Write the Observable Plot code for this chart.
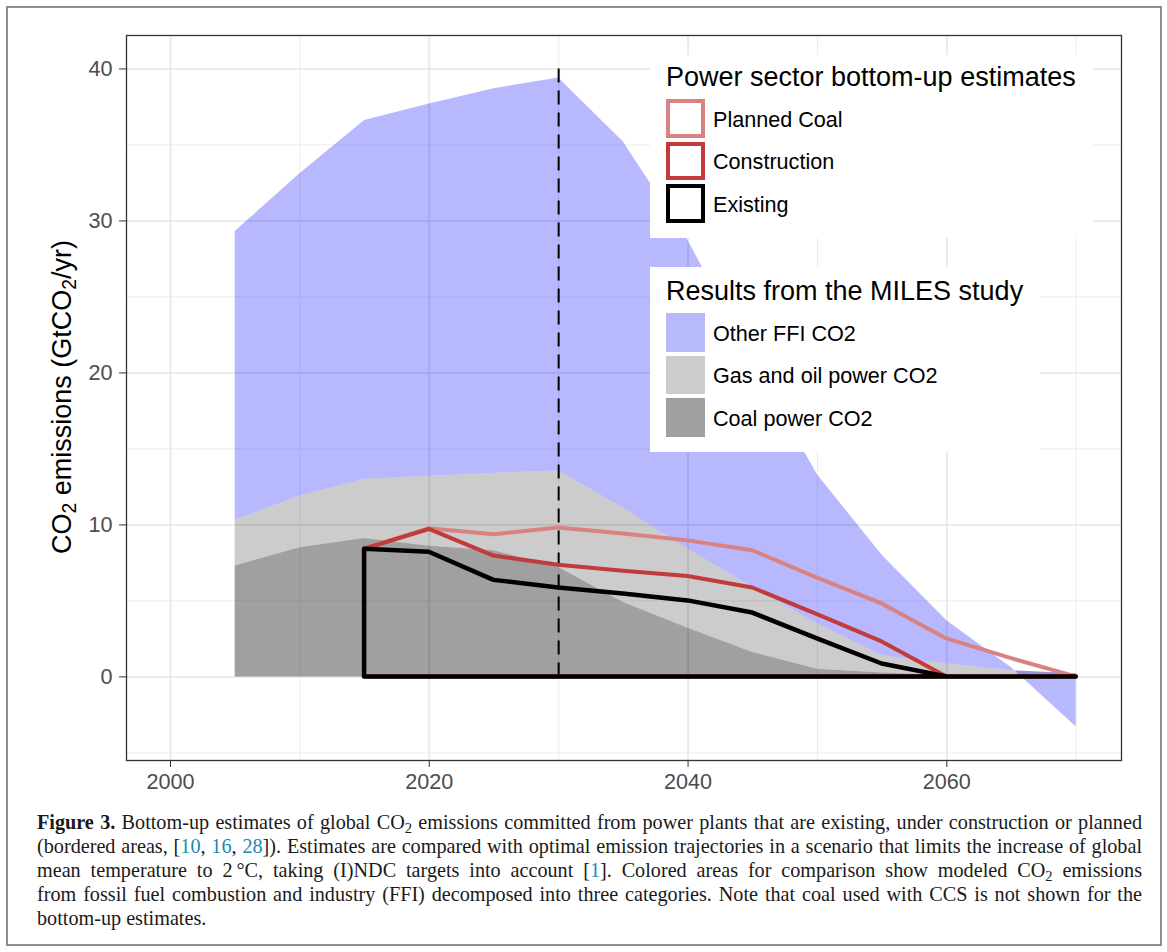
<!DOCTYPE html>
<html><head><meta charset="utf-8">
<script src="https://cdn.jsdelivr.net/npm/d3@7"></script>
<script src="https://cdn.jsdelivr.net/npm/@observablehq/plot@0.6"></script>
<style>
body{margin:0;background:#fff;width:1167px;height:952px;position:relative;overflow:hidden;font-family:"Liberation Sans",Arial,sans-serif;}
#frame{position:absolute;left:6px;top:6px;width:1152px;height:936px;border:2.5px solid #8f8f8f;pointer-events:none;}
#chart{position:absolute;left:0;top:0;}
.lbox{position:absolute;background:#fff;}
.ltitle{position:absolute;font-size:27px;line-height:27px;color:#000;white-space:nowrap;}
.ltext{position:absolute;font-size:21.6px;line-height:21.6px;color:#000;white-space:nowrap;}
.key{position:absolute;box-sizing:border-box;width:39px;height:38.5px;}
#ytitle{position:absolute;left:62px;top:397px;transform:translate(-50%,-50%) rotate(-90deg);font-size:27px;white-space:nowrap;color:#000;}
#ytitle sub, #caption sub{font-size:0.72em;vertical-align:-0.28em;line-height:0;}
#caption{position:absolute;left:37px;width:1105px;top:810px;font-family:"Liberation Serif","Times New Roman",serif;font-size:20.2px;color:#1a1a1a;}
#caption .ln{display:block;height:24px;line-height:24px;white-space:nowrap;text-align:justify;text-align-last:justify;}
#caption .ln.last{text-align-last:left;}
#caption a{color:#1a8ab5;text-decoration:none;}
</style>
</head><body>
<div id="chart"></div>
<div id="ytitle">CO<sub>2</sub> emissions (GtCO<sub>2</sub>/yr)</div>
<div class="lbox" style="left:650px;top:55px;width:443px;height:183px;"></div>
<div class="lbox" style="left:650px;top:267px;width:390px;height:185px;"></div>
<div id="legend"></div>
<div id="caption">
<span class="ln"><b>Figure 3.</b> Bottom-up estimates of global CO<sub>2</sub> emissions committed from power plants that are existing, under construction or planned</span>
<span class="ln">(bordered areas, [<a>10</a>, <a>16</a>, <a>28</a>]). Estimates are compared with optimal emission trajectories in a scenario that limits the increase of global</span>
<span class="ln">mean temperature to 2&#8201;°C, taking (I)NDC targets into account [<a>1</a>]. Colored areas for comparison show modeled CO<sub>2</sub> emissions</span>
<span class="ln">from fossil fuel combustion and industry (FFI) decomposed into three categories. Note that coal used with CCS is not shown for the</span>
<span class="ln last">bottom-up estimates.</span>
</div>
<div id="frame"></div>
<script>
// ---- MILES study (stacked areas), cumulative tops
const years = [2005, 2010, 2015, 2020, 2025, 2030, 2035, 2040, 2045, 2050, 2055, 2060, 2065, 2070];
const coalPowerTop = [7.3, 8.5, 9.1, 8.6, 8.3, 7.2, 4.9, 3.2, 1.6, 0.5, 0.25, 0.1, 0.0, 0.0];
const gasOilPowerTop = [10.3, 11.9, 13.0, 13.2, 13.4, 13.55, 11.1, 8.4, 5.9, 3.5, 1.4, 0.85, 0.4, 0.2];
const otherFFITop = [29.3, 33.1, 36.6, 37.7, 38.7, 39.4, 35.2, 28.7, 20.8, 13.3, 8.0, 3.7, 0.6, -3.3];

// ---- Power sector bottom-up estimates
const buYears = [2015, 2020, 2025, 2030, 2035, 2040, 2045, 2050, 2055, 2060, 2065, 2070];
const plannedCoal = [8.4, 9.75, 9.35, 9.8, 9.4, 8.95, 8.3, 6.5, 4.8, 2.5, 1.2, 0.0];
const construction = [8.4, 9.7, 7.95, 7.35, 6.95, 6.6, 5.85, 4.1, 2.3, 0.0, 0.0, 0.0];
const existing = [8.4, 8.2, 6.35, 5.85, 5.45, 5.0, 4.2, 2.5, 0.85, 0.0, 0.0, 0.0];

const markerYear = [2030];
const markerTop = 40;

const xTicks = [2000, 2020, 2040, 2060];
const xMinor = [2010, 2030, 2050, 2070];
const yTicks = [0, 10, 20, 30, 40];
const yMinor = [-5, 5, 15, 25, 35];

const boxSeries = ["Planned Coal", "Construction", "Existing"];
const boxColors = ["#d98282", "#c23a3a", "#000000"];
const areaSeries = ["Other FFI CO2", "Gas and oil power CO2", "Coal power CO2"];
const areaColors = ["#b8b8fc", "#cccccc", "#a0a0a0"];

const idx = d3.range(years.length);
const bidx = d3.range(buYears.length);

const plot = Plot.plot({
  width: 1167,
  height: 800,
  marginLeft: 126,
  marginRight: 46,
  marginTop: 35,
  marginBottom: 40,
  x: {domain: [1996.6, 2073.5]},
  y: {domain: [-5.5, 42.2]},
  style: {fontFamily: "'Liberation Sans', Arial, sans-serif", background: "transparent", overflow: "visible"},
  marks: [
    Plot.ruleY(yMinor, {stroke: "#ececec", strokeWidth: 1}),
    Plot.ruleX(xMinor, {stroke: "#ececec", strokeWidth: 1}),
    Plot.ruleY(yTicks, {stroke: "#e8e8e8", strokeWidth: 1.8}),
    Plot.ruleX(xTicks, {stroke: "#e8e8e8", strokeWidth: 1.8}),
    Plot.areaY(idx, {x: i => years[i], y1: 0, y2: i => coalPowerTop[i], fill: "#000", fillOpacity: 0.372}),
    Plot.areaY(idx, {x: i => years[i], y1: i => coalPowerTop[i], y2: i => gasOilPowerTop[i], fill: "#000", fillOpacity: 0.2}),
    Plot.areaY(idx, {x: i => years[i], y1: i => gasOilPowerTop[i], y2: i => otherFFITop[i], fill: "#0000ff", fillOpacity: 0.28}),
    Plot.ruleX(markerYear, {y1: 0, y2: markerTop, stroke: "#000", strokeWidth: 2, strokeDasharray: "14,8"}),
    Plot.areaY(bidx, {x: i => buYears[i], y1: 0, y2: i => plannedCoal[i], fill: "none", stroke: boxColors[0], strokeWidth: 4, strokeLinejoin: "round"}),
    Plot.areaY(bidx, {x: i => buYears[i], y1: 0, y2: i => construction[i], fill: "none", stroke: boxColors[1], strokeWidth: 4, strokeLinejoin: "round"}),
    Plot.areaY(bidx, {x: i => buYears[i], y1: 0, y2: i => existing[i], fill: "none", stroke: boxColors[2], strokeWidth: 4.5, strokeLinejoin: "round"}),
    Plot.frame({stroke: "#333", strokeWidth: 1.3}),
    Plot.axisX(xTicks, {tickSize: 7, tickPadding: 6, fontSize: 21.6, stroke: "#333", fill: "#4d4d4d", label: null, tickFormat: d => String(d)}),
    Plot.axisY(yTicks, {tickSize: 7, tickPadding: 7, fontSize: 21.6, stroke: "#333", fill: "#4d4d4d", label: null, tickFormat: d => String(d)})
  ]
});
document.getElementById("chart").appendChild(plot);

// legends
const lg = document.getElementById("legend");
function add(cls, style, text) {
  const d = document.createElement("div");
  d.className = cls; d.setAttribute("style", style);
  if (text) d.textContent = text;
  lg.appendChild(d);
}
add("ltitle", "left:666px;top:64px;", "Power sector bottom-up estimates");
boxSeries.forEach((s, i) => {
  const top = 99 + i * 42.5;
  add("key", `left:666px;top:${top}px;border:4px solid ${boxColors[i]};background:#fff;`);
  add("ltext", `left:713px;top:${top + 9.6}px;`, s);
});
add("ltitle", "left:666px;top:278px;", "Results from the MILES study");
areaSeries.forEach((s, i) => {
  const top = 313 + i * 42.5;
  add("key", `left:666px;top:${top}px;background:${areaColors[i]};`);
  add("ltext", `left:713px;top:${top + 9.6}px;`, s);
});
</script>
</body></html>
